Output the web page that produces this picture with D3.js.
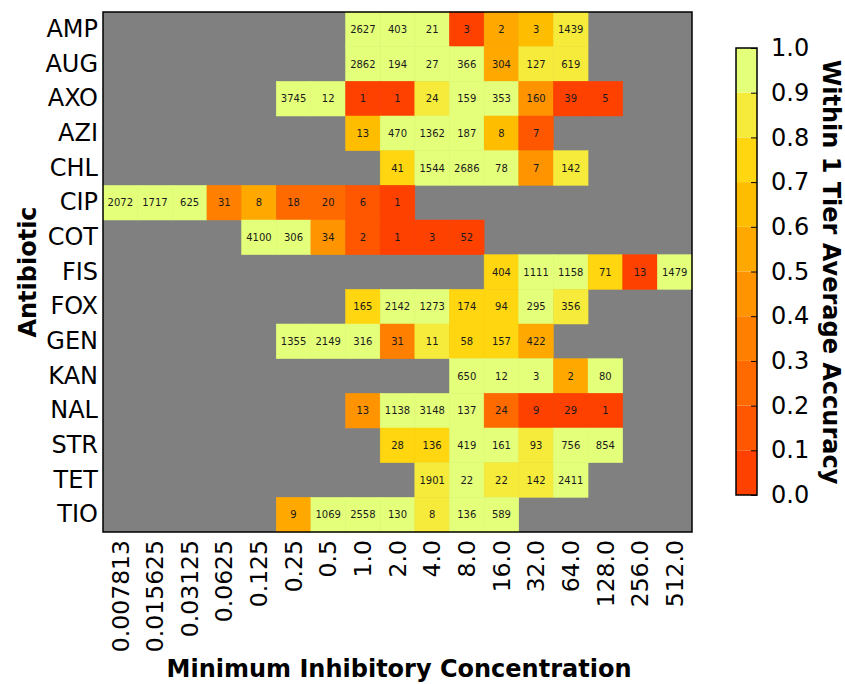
<!DOCTYPE html>
<html>
<head>
<meta charset="utf-8">
<script src="https://cdn.jsdelivr.net/npm/d3@7"></script>
<style>
  body { margin: 0; background: #fff; }
  svg { font-family: "DejaVu Sans", sans-serif; }
</style>
</head>
<body>
<svg id="chart" width="845" height="684"></svg>
<script>
// antibiotics (rows) and MIC dilutions (columns)
var antibiotics = ["AMP", "AUG", "AXO", "AZI", "CHL", "CIP", "COT", "FIS", "FOX", "GEN", "KAN", "NAL", "STR", "TET", "TIO"];
var micLabels = ["0.007813", "0.015625", "0.03125", "0.0625", "0.125", "0.25", "0.5", "1.0", "2.0",
  "4.0", "8.0", "16.0", "32.0", "64.0", "128.0", "256.0", "512.0"];

// first MIC column with data for each antibiotic
var startCol = [7, 7, 5, 7, 8, 0, 4, 11, 7, 5, 10, 7, 8, 9, 5];

// number of isolates per cell
var counts = [
  [2627, 403, 21, 3, 2, 3, 1439],
  [2862, 194, 27, 366, 304, 127, 619],
  [3745, 12, 1, 1, 24, 159, 353, 160, 39, 5],
  [13, 470, 1362, 187, 8, 7],
  [41, 1544, 2686, 78, 7, 142],
  [2072, 1717, 625, 31, 8, 18, 20, 6, 1],
  [4100, 306, 34, 2, 1, 3, 52],
  [404, 1111, 1158, 71, 13, 1479],
  [165, 2142, 1273, 174, 94, 295, 356],
  [1355, 2149, 316, 31, 11, 58, 157, 422],
  [650, 12, 3, 2, 80],
  [13, 1138, 3148, 137, 24, 9, 29, 1],
  [28, 136, 419, 161, 93, 756, 854],
  [1901, 22, 22, 142, 2411],
  [9, 1069, 2558, 130, 8, 136, 589]
];

// within 1 tier average accuracy per cell
var accuracy = [
  [0.96, 0.95, 0.95, 0.05, 0.55, 0.64, 0.86],
  [0.97, 0.94, 0.93, 0.92, 0.56, 0.87, 0.88],
  [0.98, 0.92, 0.0, 0.0, 0.83, 0.93, 0.91, 0.46, 0.05, 0.0],
  [0.62, 0.94, 0.95, 0.91, 0.63, 0.14],
  [0.76, 0.96, 0.97, 0.92, 0.43, 0.85],
  [0.99, 0.98, 0.96, 0.35, 0.5, 0.28, 0.25, 0.17, 0.0],
  [0.98, 0.93, 0.41, 0.1, 0.0, 0.0, 0.04],
  [0.77, 0.95, 0.92, 0.72, 0.08, 0.97],
  [0.73, 0.96, 0.94, 0.76, 0.74, 0.91, 0.84],
  [0.97, 0.96, 0.93, 0.32, 0.82, 0.78, 0.75, 0.54],
  [0.95, 0.92, 1.0, 0.5, 0.94],
  [0.46, 0.96, 0.97, 0.92, 0.21, 0.0, 0.03, 0.0],
  [0.74, 0.77, 0.93, 0.91, 0.86, 0.95, 0.93],
  [0.88, 0.91, 0.82, 0.87, 0.95],
  [0.58, 0.97, 0.98, 0.92, 0.88, 0.93, 0.96]
];

// 10-step colour map, 0.0 -> 1.0
var bandColors = ["#ff4100", "#ff5600", "#ff6a00", "#ff7f00", "#ff9400", "#ffa900",
  "#ffbd00", "#ffd60f", "#f6eb3b", "#e4ff7a"];
var cbTicks = [0.0, 0.1, 0.2, 0.3, 0.4, 0.5, 0.6, 0.7, 0.8, 0.9, 1.0];

var svg = d3.select("#chart");

var plot = {left: 103, top: 12, right: 692, bottom: 532};

var x = d3.scaleBand().domain(micLabels).range([plot.left, plot.right]).padding(0);
var y = d3.scaleBand().domain(antibiotics).range([plot.top, plot.bottom]).padding(0);
var color = d3.scaleQuantize().domain([0, 1]).range(bandColors);

// flatten into cells
var cells = [];
antibiotics.forEach(function (ab, i) {
  counts[i].forEach(function (n, j) {
    cells.push({ab: ab, mic: micLabels[startCol[i] + j], n: n, acc: accuracy[i][j]});
  });
});

// grey background for missing cells
svg.append("rect")
  .attr("x", plot.left).attr("y", plot.top)
  .attr("width", plot.right - plot.left).attr("height", plot.bottom - plot.top)
  .attr("fill", "#808080");

svg.append("g").selectAll("rect")
  .data(cells)
  .enter().append("rect")
  .attr("x", function (d) { return x(d.mic); })
  .attr("y", function (d) { return y(d.ab); })
  .attr("width", x.bandwidth())
  .attr("height", y.bandwidth())
  .attr("fill", function (d) { return color(Math.min(d.acc, 0.999)); })
  .attr("stroke", function (d) { return color(Math.min(d.acc, 0.999)); })
  .attr("stroke-width", 0.5);

svg.append("g").selectAll("text")
  .data(cells)
  .enter().append("text")
  .attr("x", function (d) { return x(d.mic) + x.bandwidth() / 2; })
  .attr("y", function (d) { return y(d.ab) + y.bandwidth() / 2; })
  .attr("text-anchor", "middle")
  .attr("dominant-baseline", "central")
  .attr("font-size", "10px")
  .attr("fill", "#1a1a1a")
  .text(function (d) { return d.n; });

// frame
svg.append("rect")
  .attr("x", plot.left).attr("y", plot.top)
  .attr("width", plot.right - plot.left).attr("height", plot.bottom - plot.top)
  .attr("fill", "none").attr("stroke", "#000").attr("stroke-width", 1.5);

// y axis labels
var yAxis = d3.axisLeft(y).tickSize(0).tickPadding(5);
var gy = svg.append("g").attr("transform", "translate(" + plot.left + ",0)").call(yAxis);
gy.select(".domain").remove();
gy.selectAll("text").attr("font-size", "24px").attr("font-family", "DejaVu Sans").attr("fill", "#000");

// x axis labels, rotated
var xAxis = d3.axisBottom(x).tickSize(0).tickPadding(0);
var gx = svg.append("g").attr("transform", "translate(0," + plot.bottom + ")").call(xAxis);
gx.select(".domain").remove();
gx.selectAll("text")
  .attr("font-size", "23.5px").attr("font-family", "DejaVu Sans").attr("fill", "#000")
  .attr("transform", "rotate(-90)")
  .attr("text-anchor", "end")
  .attr("x", -8).attr("y", 0)
  .attr("dy", "0.35em");

// axis titles
svg.append("text")
  .attr("transform", "translate(36,272) rotate(-90)")
  .attr("text-anchor", "middle")
  .attr("font-size", "24px").attr("font-weight", "bold")
  .text("Antibiotic");

svg.append("text")
  .attr("x", 399).attr("y", 677)
  .attr("text-anchor", "middle")
  .attr("font-size", "24px").attr("font-weight", "bold")
  .text("Minimum Inhibitory Concentration");

// colour bar
var cb = {left: 736, width: 21, top: 48, bottom: 495};
var cy = d3.scaleLinear().domain([0, 1]).range([cb.bottom, cb.top]);
var bands = d3.range(bandColors.length);

svg.append("g").selectAll("rect")
  .data(bands)
  .enter().append("rect")
  .attr("x", cb.left)
  .attr("y", function (i) { return cy((i + 1) / bandColors.length); })
  .attr("width", cb.width)
  .attr("height", function (i) { return cy(i / bandColors.length) - cy((i + 1) / bandColors.length); })
  .attr("fill", function (i) { return bandColors[i]; });

var cAxis = d3.axisRight(cy).tickValues(cbTicks).tickSize(-6).tickPadding(14)
  .tickFormat(d3.format(".1f"));
var gc = svg.append("g").attr("transform", "translate(" + (cb.left + cb.width) + ",0)").call(cAxis);
gc.select(".domain").remove();
gc.selectAll("line").attr("stroke", "#000").attr("stroke-width", 1);
gc.selectAll("text").attr("font-size", "24px").attr("font-family", "DejaVu Sans").attr("fill", "#000");

svg.append("rect")
  .attr("x", cb.left).attr("y", cb.top)
  .attr("width", cb.width).attr("height", cb.bottom - cb.top)
  .attr("fill", "none").attr("stroke", "#000").attr("stroke-width", 1.5);

svg.append("text")
  .attr("transform", "translate(823,272) rotate(90)")
  .attr("text-anchor", "middle")
  .attr("font-size", "24px").attr("font-weight", "bold")
  .text("Within 1 Tier Average Accuracy");
</script>
</body>
</html>
